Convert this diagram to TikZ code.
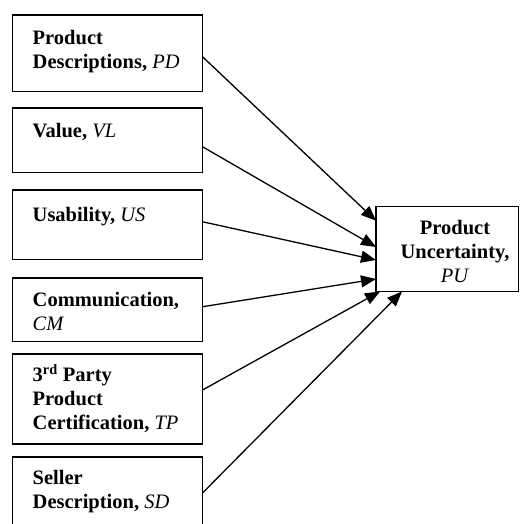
\documentclass[tikz,border=0pt]{standalone}
\usepackage{fontspec}
\setmainfont{Liberation Serif}
\usetikzlibrary{arrows.meta}
\begin{document}
\begin{tikzpicture}[x=1pt,y=-1pt,
  box/.style={draw=black,line width=1.5pt,rectangle,inner sep=0pt,outer sep=0pt,anchor=north west,minimum width=190pt},
  lbl/.style={anchor=north west,inner sep=0pt,align=left,font=\fontsize{20.5}{24}\selectfont\bfseries},
  rlbl/.style={inner sep=0pt,align=center,font=\fontsize{20.5}{24}\selectfont\bfseries},
  arr/.style={line width=1.3pt,-{Triangle[length=15pt,width=12pt]}}]
\useasboundingbox (0,0) rectangle (519,524);
\clip (0,0) rectangle (519,524);
\node[box,minimum height=76.5pt] (b1) at (12.5,15) {};
\node[box,minimum height=64.5pt] (b2) at (12.5,108) {};
\node[box,minimum height=69.5pt] (b3) at (12.5,190) {};
\node[box,minimum height=63.5pt] (b4) at (12.5,278) {};
\node[box,minimum height=90pt] (b5) at (12.5,354) {};
\node[box,minimum height=90pt] (b6) at (12.5,457) {};
\node[box,minimum width=142.5pt,minimum height=85pt] (pu) at (376,206.5) {};
\node[lbl] (t1) at (32.5,30) {Product\\Descriptions, \textit{\mdseries PD}};
\node[lbl] (t2) at (32.5,123) {Value, \textit{\mdseries VL}};
\node[lbl] (t3) at (32.5,207) {Usability, \textit{\mdseries US}};
\node[lbl] (t4) at (32.5,292) {Communication,\\\textit{\mdseries CM}};
\node[lbl] (t5) at (32.5,364) {3\textsuperscript{rd} Party\\Product\\Certification, \textit{\mdseries TP}};
\node[lbl] (t6) at (32.5,470) {Seller\\Description, \textit{\mdseries SD}};
\node[rlbl,anchor=north] (tp) at (455,220) {Product\\Uncertainty,\\\textit{\mdseries PU}};
\draw[arr] ([yshift=-3.5pt]b1.east) -- ([yshift=28.3pt]pu.west);
\draw[arr] ([yshift=-6.5pt]b2.east) -- ([yshift=2pt]pu.west);
\draw[arr] ([yshift=3pt]b3.east) -- ([yshift=-11pt]pu.west);
\draw[arr] ([yshift=3pt]b4.east) -- ([yshift=-30pt]pu.west);
\draw[arr] ([yshift=9pt]b5.east) -- ([xshift=4pt]pu.south west);
\draw[arr] ([yshift=-36pt]b6.north east) -- ([xshift=26pt]pu.south west);
\end{tikzpicture}
\end{document}
